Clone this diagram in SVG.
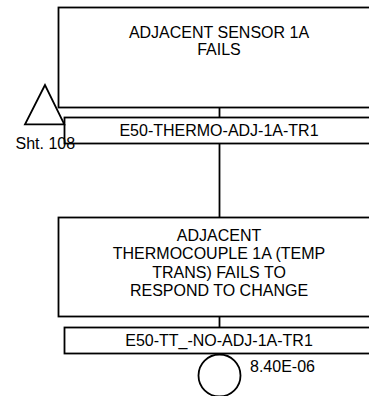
<svg xmlns="http://www.w3.org/2000/svg" width="369" height="396" viewBox="0 0 369 396">
<style>
.box{fill:#fff;stroke:#000;stroke-width:1.8}
.ln{fill:none;stroke:#000;stroke-width:1.8}
.t{font-family:"Liberation Sans",Arial,sans-serif;font-size:16px;fill:#000;text-anchor:middle}
.tl{font-family:"Liberation Sans",Arial,sans-serif;font-size:16px;fill:#000}
</style>
<rect width="369" height="396" fill="#fff"/>
<g id="connectors">
<line class="ln" x1="219.5" y1="107.5" x2="219.5" y2="117.5"/>
<line class="ln" x1="219.5" y1="143.5" x2="219.5" y2="217.5"/>
<line class="ln" x1="219.5" y1="316.5" x2="219.5" y2="327.5"/>
</g>
<g id="gate1">
<rect class="box" x="58.5" y="7.5" width="321" height="100"/>
<text class="t" x="219" y="37.5">ADJACENT SENSOR 1A</text>
<text class="t" x="219" y="55">FAILS</text>
</g>
<g id="label1">
<rect class="box" x="64.5" y="117.5" width="310" height="26"/>
<text class="t" x="219" y="135.7">E50-THERMO-ADJ-1A-TR1</text>
</g>
<g id="transfer">
<polygon class="ln" points="45,85 25,124.3 64.3,124.3"/>
<text class="tl" x="15.5" y="148.5">Sht. 108</text>
</g>
<g id="event1">
<rect class="box" x="58.5" y="217.5" width="321" height="99"/>
<text class="t" x="219" y="241">ADJACENT</text>
<text class="t" x="219" y="259.3">THERMOCOUPLE 1A (TEMP</text>
<text class="t" x="219" y="277.7">TRANS) FAILS TO</text>
<text class="t" x="219" y="296">RESPOND TO CHANGE</text>
</g>
<g id="label2">
<rect class="box" x="64.5" y="327.5" width="310" height="26"/>
<text class="t" x="219" y="346.3">E50-TT_-NO-ADJ-1A-TR1</text>
</g>
<g id="basic1">
<circle class="box" cx="219.5" cy="375.5" r="21"/>
<text class="tl" x="250" y="372">8.40E-06</text>
</g>
</svg>
